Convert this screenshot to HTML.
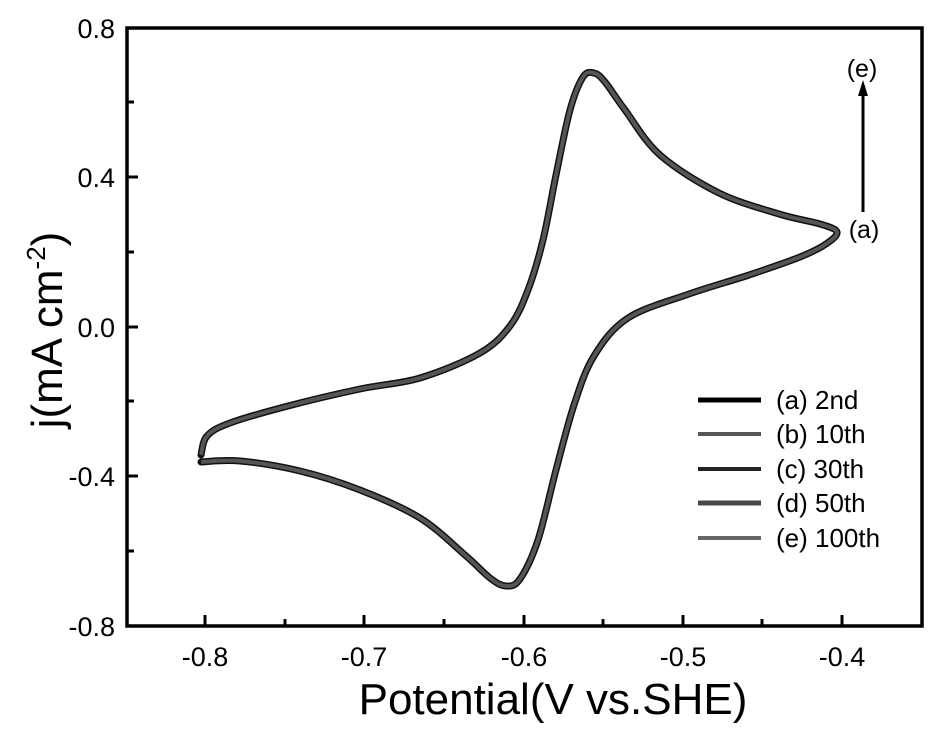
<!DOCTYPE html>
<html><head><meta charset="utf-8"><style>
html,body{margin:0;padding:0;background:#fff;}
svg{display:block;font-family:"Liberation Sans",Arial,sans-serif;}
</style></head><body>
<svg id="s" width="940" height="731" viewBox="0 0 940 731">
<rect width="940" height="731" fill="#fff"/>
<rect x="127" y="28" width="795" height="598" fill="none" stroke="#000" stroke-width="3.5"/>
<g stroke="#000" stroke-width="3">
<line x1="205" y1="626" x2="205" y2="615"/><line x1="364" y1="626" x2="364" y2="615"/><line x1="524" y1="626" x2="524" y2="615"/><line x1="683" y1="626" x2="683" y2="615"/><line x1="842" y1="626" x2="842" y2="615"/>
<line x1="285" y1="626" x2="285" y2="619"/><line x1="444" y1="626" x2="444" y2="619"/><line x1="603" y1="626" x2="603" y2="619"/><line x1="762" y1="626" x2="762" y2="619"/>
<line x1="127" y1="177" x2="138" y2="177"/><line x1="127" y1="327" x2="138" y2="327"/><line x1="127" y1="476" x2="138" y2="476"/>
<line x1="127" y1="102" x2="134" y2="102"/><line x1="127" y1="252" x2="134" y2="252"/><line x1="127" y1="401" x2="134" y2="401"/><line x1="127" y1="551" x2="134" y2="551"/>
</g>
<g font-size="27" fill="#000" text-anchor="end">
<text x="115" y="38">0.8</text><text x="115" y="187">0.4</text><text x="115" y="337">0.0</text><text x="115" y="486">-0.4</text><text x="115" y="636">-0.8</text>
</g>
<g font-size="27" fill="#000" text-anchor="middle">
<text x="205" y="666">-0.8</text><text x="364" y="666">-0.7</text><text x="524" y="666">-0.6</text><text x="683" y="666">-0.5</text><text x="842" y="666">-0.4</text>
</g>
<text x="553" y="714" font-size="44" text-anchor="middle">Potential(V vs.SHE)</text>
<text transform="translate(62,330) rotate(-90)" font-size="44" text-anchor="middle">j(mA cm<tspan dy="-17" font-size="26">-2</tspan><tspan dy="17">)</tspan></text>
<path id="cv" fill="none" stroke="#111" stroke-width="7" stroke-linejoin="round" stroke-linecap="round"/>
<path id="cv2" fill="none" stroke="#555" stroke-width="4" stroke-linejoin="round"/>
<line x1="863" y1="212" x2="863" y2="92" stroke="#000" stroke-width="3"/>
<polygon points="863,80 858,96 868,96" fill="#000"/>
<text x="862" y="77" font-size="25" text-anchor="middle">(e)</text>
<text x="864" y="238" font-size="25" text-anchor="middle">(a)</text>
<g>
<line x1="698" y1="400" x2="761" y2="400" stroke="#000" stroke-width="5"/>
<line x1="698" y1="434" x2="761" y2="434" stroke="#555" stroke-width="4"/>
<line x1="698" y1="469" x2="761" y2="469" stroke="#222" stroke-width="4"/>
<line x1="698" y1="503" x2="761" y2="503" stroke="#484848" stroke-width="5"/>
<line x1="698" y1="538" x2="761" y2="538" stroke="#666" stroke-width="4"/>
</g>
<g font-size="26" fill="#000">
<text x="776" y="409">(a) 2nd</text><text x="776" y="443">(b) 10th</text><text x="776" y="478">(c) 30th</text><text x="776" y="512">(d) 50th</text><text x="776" y="547">(e) 100th</text>
</g>
</svg>
<script>
var P=[[201,462],[240,461],[300,471],[360,490],[420,518],[465,555],[490,578],[506,586],[520,579],[538,540],[556,470],[574,405],[594,356],[628,318],[689,294],[749,275],[800,257],[826,244],[837,232],
[820,224],[779,214],[719,193],[660,155],[625,110],[605,82],[594,73],[583,77],[570,110],[556,175],[543,240],[528,290],[510,326],[480,353],[420,378],[360,389],[288,406],[230,423],[207,436],[201,455]];
function cr(p){var d="M"+p[0][0]+","+p[0][1];for(var i=0;i<p.length-1;i++){var a=p[Math.max(i-1,0)],b=p[i],c=p[i+1],e=p[Math.min(i+2,p.length-1)];
var c1=[b[0]+(c[0]-a[0])/6,b[1]+(c[1]-a[1])/6],c2=[c[0]-(e[0]-b[0])/6,c[1]-(e[1]-b[1])/6];
d+=" C"+c1[0].toFixed(1)+","+c1[1].toFixed(1)+" "+c2[0].toFixed(1)+","+c2[1].toFixed(1)+" "+c[0]+","+c[1];}return d;}
var d=cr(P);document.getElementById("cv").setAttribute("d",d);document.getElementById("cv2").setAttribute("d",d);
</script>
</body></html>
